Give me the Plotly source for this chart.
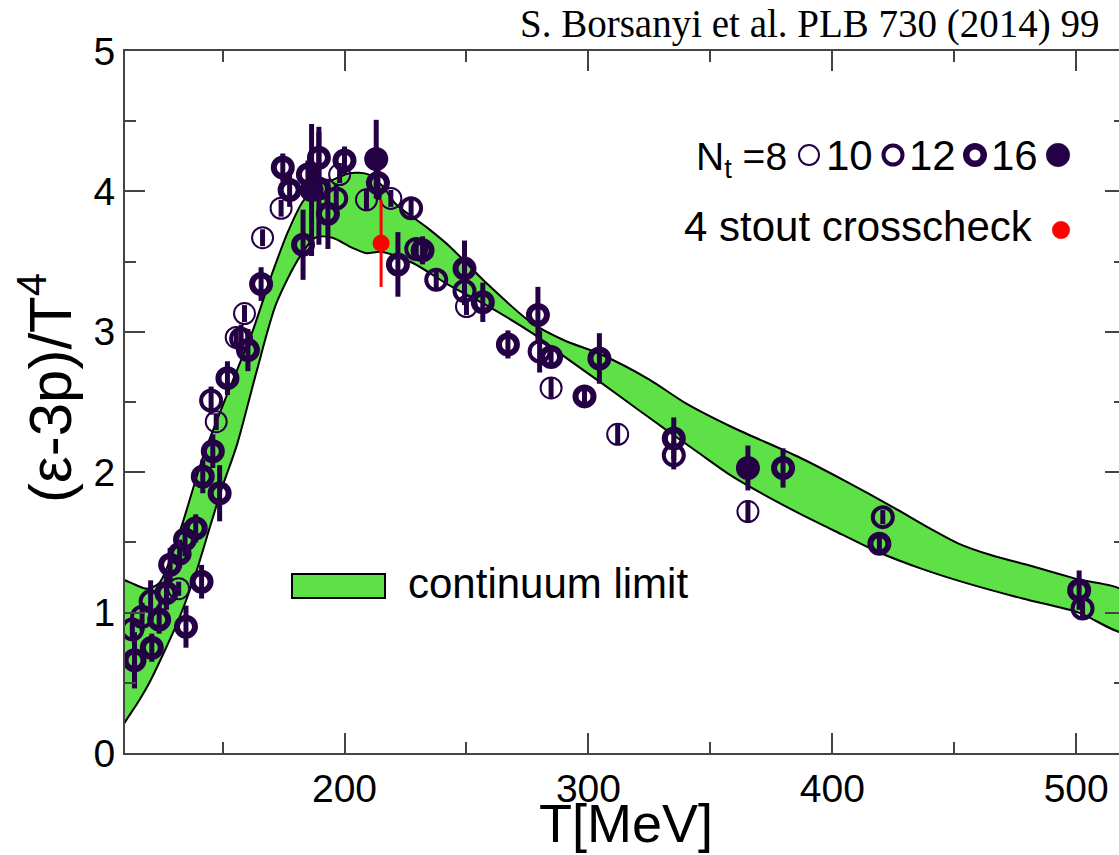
import plotly.graph_objects as go

# ---------------- data ----------------
# continuum-limit band (upper / lower edges)
band_upper_T = [108, 110, 114, 119, 124, 129, 134, 142, 152, 162, 170, 177, 183, 190, 195, 202, 210, 216, 221,
                234, 243, 258, 277, 290, 305, 325, 340, 359, 386, 405, 425, 440, 452, 465, 482, 500, 520]
band_upper_y = [1.24, 1.23, 1.20, 1.17, 1.21, 1.40, 1.66, 2.11, 2.56, 2.99, 3.40, 3.72, 3.93, 4.05, 4.08, 4.13, 4.12,
                4.03, 3.91, 3.74, 3.61, 3.35, 3.06, 2.94, 2.84, 2.66, 2.49, 2.32, 2.11, 1.94, 1.75, 1.60, 1.49,
                1.41, 1.33, 1.24, 1.145]
band_lower_T = [108, 110, 116, 120, 125, 132, 139, 145, 150, 156, 164, 172, 181.5, 188, 195, 203, 209, 215, 228,
                243, 257, 277, 292, 305, 320, 332, 345, 359, 386, 400, 419, 437, 455, 478, 501, 520]
band_lower_y = [0.16, 0.22, 0.38, 0.50, 0.68, 0.95, 1.28, 1.62, 1.90, 2.20, 2.72, 3.20, 3.53, 3.67, 3.67, 3.60,
                3.56, 3.57, 3.49, 3.33, 3.20, 2.99, 2.80, 2.64, 2.45, 2.30, 2.14, 1.97, 1.71, 1.59, 1.43, 1.31,
                1.21, 1.10, 1.00, 0.86]

# Nt = 8 (thin open circles)
nt8_T = [132.0, 147.4, 155.6, 159.0, 166.4, 174.0, 198.0, 209.0, 219.0, 250.0, 284.7, 312.0, 365.4]
nt8_y = [1.17, 2.36, 2.96, 3.13, 3.67, 3.88, 4.12, 3.94, 3.95, 3.18, 2.60, 2.27, 1.72]
nt8_e = [0.05, 0.06, 0.06, 0.06, 0.06, 0.06, 0.06, 0.08, 0.06, 0.06, 0.07, 0.07, 0.08]

# Nt = 10 (medium open circles)
nt10_T = [113.0, 117.0, 120.5, 145.3, 157.6, 196.6, 227.3, 229.4, 237.6, 249.2, 280.0, 335.0, 420.7, 502.6]
nt10_y = [0.88, 0.97, 1.08, 2.51, 2.95, 3.95, 3.88, 3.59, 3.37, 3.29, 2.86, 2.12, 1.68, 1.03]
nt10_e = [0.08, 0.10, 0.15, 0.10, 0.10, 0.10, 0.06, 0.06, 0.06, 0.10, 0.15, 0.10, 0.05, 0.07]

# Nt = 12 (thick open circles)
nt12_T = [113.9, 121.0, 124.0, 127.0, 128.5, 134.6, 135.0, 141.4, 132.4, 139.0, 141.9, 146.0, 148.8, 152.0,
          160.4, 165.8, 174.7, 177.5, 183.0, 189.5, 189.5, 193.2, 200.0, 185.0, 213.7, 221.9, 232.0, 249.2,
          256.7, 267.0, 279.3, 284.7, 298.4, 304.5, 335.0, 379.8, 419.3, 501.2]
nt12_y = [0.66, 0.75, 0.95, 1.14, 1.34, 1.52, 0.90, 1.22, 1.42, 1.60, 1.97, 2.15, 1.85, 2.67,
          2.87, 3.34, 4.17, 4.01, 3.62, 4.24, 4.02, 3.84, 4.22, 4.12, 4.06, 3.48, 3.58, 3.45,
          3.21, 2.91, 3.12, 2.82, 2.54, 2.81, 2.24, 2.03, 1.49, 1.16]
nt12_e = [0.20, 0.10, 0.10, 0.12, 0.12, 0.12, 0.15, 0.12, 0.10, 0.10, 0.12, 0.12, 0.20, 0.12,
          0.15, 0.12, 0.10, 0.12, 0.25, 0.22, 0.40, 0.25, 0.10, 0.10, 0.12, 0.23, 0.10, 0.20,
          0.14, 0.10, 0.20, 0.06, 0.08, 0.18, 0.15, 0.14, 0.05, 0.14]

# Nt = 16 (filled circles)
nt16_T = [186.5, 213.0, 365.4]
nt16_y = [4.01, 4.23, 2.03]
nt16_e = [0.47, 0.28, 0.16]

# 4 stout crosscheck
stout_T = [215.0]
stout_y = [3.63]
stout_e = [0.31]

x_ticks = [200, 300, 400, 500]
x_minor = [150, 250, 350, 450]
y_ticks = [0, 1, 2, 3, 4, 5]
y_minor = [0.5, 1.5, 2.5, 3.5, 4.5]

# ---------------- style ----------------
PURPLE = "#240044"
GREEN = "#5de146"
AXC = "#444444"
SANS = "Liberation Sans, Arial, sans-serif"
SERIF = "Liberation Serif, Times New Roman, serif"

W, H = 1119, 855
L, R, T, B = 125, 0, 51, 102
PW, PH = W - L - R, H - T - B


def xp(px):
    return (px - L) / PW


def yp(py):
    return (H - B - py) / PH


fig = go.Figure()

# band as closed polygon
fig.add_trace(go.Scatter(
    x=band_upper_T + band_lower_T[::-1],
    y=band_upper_y + band_lower_y[::-1],
    mode="lines", fill="toself", fillcolor=GREEN,
    line=dict(color="black", width=2, shape="spline", smoothing=0.8),
    hoverinfo="skip", showlegend=False))


def add_series(Tv, yv, ev, size, lw, symbol):
    fig.add_trace(go.Scatter(
        x=Tv, y=yv, mode="markers",
        error_y=dict(type="data", array=ev, visible=True, color=PURPLE, thickness=5, width=0),
        marker=dict(symbol=symbol, size=size, color=PURPLE,
                    line=dict(color=PURPLE, width=lw)),
        showlegend=False))


add_series(nt8_T, nt8_y, nt8_e, 21, 2, "circle-open")
add_series(nt10_T, nt10_y, nt10_e, 20, 4, "circle-open")
add_series(nt12_T, nt12_y, nt12_e, 18, 6, "circle-open")
add_series(nt16_T, nt16_y, nt16_e, 24, 0, "circle")

fig.add_trace(go.Scatter(
    x=stout_T, y=stout_y, mode="markers",
    error_y=dict(type="data", array=stout_e, visible=True, color="#ff0000", thickness=3, width=0),
    marker=dict(symbol="circle", size=17, color="#ff0000"),
    showlegend=False))

# invisible trace on right y-axis (mirror ticks only)
fig.add_trace(go.Scatter(x=[300], y=[2], yaxis="y2", mode="markers",
                         marker=dict(opacity=0), hoverinfo="skip", showlegend=False))

fig.update_layout(
    width=W, height=H,
    margin=dict(l=L, r=R, t=T, b=B, pad=0),
    paper_bgcolor="white", plot_bgcolor="white",
    showlegend=False,
    xaxis=dict(range=[110, 110 + PW / 2.439], tickvals=x_ticks, ticktext=[str(v) for v in x_ticks],
               ticks="inside", ticklen=20, tickwidth=2, tickcolor=AXC,
               minor=dict(tickvals=x_minor, ticks="inside", ticklen=11, tickwidth=2, tickcolor=AXC, showgrid=False),
               showline=True, linewidth=2, linecolor=AXC, mirror="ticks",
               showgrid=False, zeroline=False,
               tickfont=dict(family=SANS, size=39, color="black")),
    yaxis=dict(range=[0, 5], tickvals=y_ticks, ticktext=[str(v) for v in y_ticks],
               ticks="inside", ticklen=20, tickwidth=2, tickcolor=AXC,
               minor=dict(tickvals=y_minor, ticks="inside", ticklen=11, tickwidth=2, tickcolor=AXC, showgrid=False),
               showline=True, linewidth=2, linecolor=AXC, mirror=False,
               showgrid=False, zeroline=False,
               tickfont=dict(family=SANS, size=39, color="black")),
    yaxis2=dict(range=[0, 5], overlaying="y", side="right", tickvals=y_ticks,
                ticks="inside", ticklen=14, tickwidth=2, tickcolor=AXC,
                minor=dict(tickvals=y_minor, ticks="inside", ticklen=5, tickwidth=2, tickcolor=AXC, showgrid=False),
                showline=False, showgrid=False, zeroline=False, showticklabels=False),
)

ann = []
# axis titles
ann.append(dict(text="T[MeV]", x=xp(626), y=yp(823), xref="paper", yref="paper",
                xanchor="center", yanchor="middle", showarrow=False,
                font=dict(family=SANS, size=54, color="black")))
ann.append(dict(text="(ε-3p)/T<sup>4</sup>", x=xp(46), y=yp(388), xref="paper", yref="paper",
                xanchor="center", yanchor="middle", textangle=-90, showarrow=False,
                font=dict(family=SANS, size=60, color="black")))
# citation
ann.append(dict(text="S. Borsanyi et al. PLB 730 (2014) 99", x=xp(1102), y=yp(24), xref="paper", yref="paper",
                xanchor="right", yanchor="middle", showarrow=False,
                font=dict(family=SERIF, size=39, color="black")))
# legend texts
LEGF = dict(family=SANS, size=42, color="black")
ann.append(dict(text="N<sub>t</sub> =8", x=xp(694), y=yp(159), xref="paper", yref="paper",
                xanchor="left", yanchor="middle", showarrow=False,
                font=dict(family=SANS, size=39, color="black")))
for txt, px in [("10", 849), ("12", 932), ("16", 1014)]:
    ann.append(dict(text=txt, x=xp(px), y=yp(155), xref="paper", yref="paper",
                    xanchor="center", yanchor="middle", showarrow=False, font=LEGF))
ann.append(dict(text="4 stout crosscheck", x=xp(682), y=yp(227), xref="paper", yref="paper",
                xanchor="left", yanchor="middle", showarrow=False, font=LEGF))
ann.append(dict(text="continuum limit", x=xp(406), y=yp(583), xref="paper", yref="paper",
                xanchor="left", yanchor="middle", showarrow=False, font=LEGF))
fig.update_layout(annotations=ann)

shapes = []


def circ(px, py, r_out, lw, fill):
    r = r_out - lw / 2.0
    shapes.append(dict(type="circle", xref="paper", yref="paper",
                       xsizemode="pixel", ysizemode="pixel",
                       xanchor=xp(px), yanchor=yp(py), x0=-r, x1=r, y0=-r, y1=r,
                       line=dict(color=PURPLE if fill != "#ff0000" else fill, width=lw),
                       fillcolor=fill))


circ(809, 155, 11, 2, "rgba(0,0,0,0)")
circ(893, 155, 11.5, 4, "rgba(0,0,0,0)")
circ(975, 155, 12, 6.5, "rgba(0,0,0,0)")
circ(1058, 155, 12, 0.5, PURPLE)
circ(1061, 230, 9, 0.5, "#ff0000")
shapes.append(dict(type="rect", xref="paper", yref="paper",
                   x0=xp(292), x1=xp(385), y0=yp(598), y1=yp(574),
                   fillcolor=GREEN, line=dict(color="black", width=2)))
fig.update_layout(shapes=shapes)

fig.write_html("out.html")
